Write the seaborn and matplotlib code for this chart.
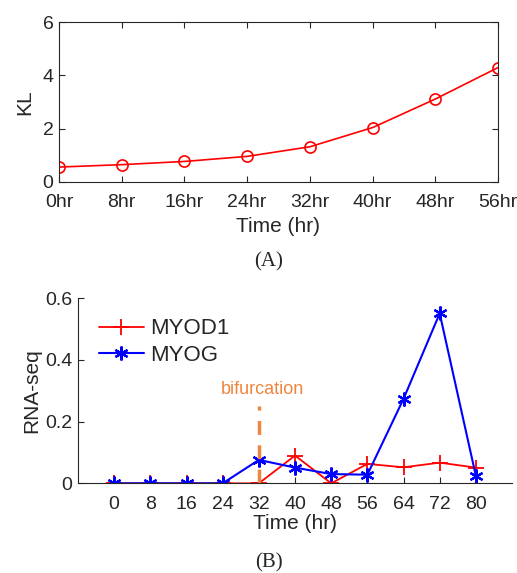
import matplotlib
matplotlib.use('Agg')
import matplotlib.pyplot as plt
import seaborn as sns
import numpy as np

# --- data ---
kl_time = [0, 8, 16, 24, 32, 40, 48, 56]
kl_labels = ['0hr', '8hr', '16hr', '24hr', '32hr', '40hr', '48hr', '56hr']
kl_values = [0.56, 0.65, 0.77, 0.96, 1.32, 2.04, 3.11, 4.29]

rna_time = [0, 8, 16, 24, 32, 40, 48, 56, 64, 72, 80]
myod1 = [0, 0, 0, 0, 0, 0.090, 0, 0.063, 0.052, 0.067, 0.051]
myog = [0, 0, 0, 0, 0.076, 0.051, 0.030, 0.028, 0.274, 0.551, 0.024]

bif_time = 32
bif_top = 0.25
bif_text = 'bifurcation'

sns.set_style('ticks')
plt.rcParams['font.family'] = ['Liberation Sans', 'DejaVu Sans']
plt.rcParams['xtick.direction'] = 'in'
plt.rcParams['ytick.direction'] = 'in'

fig = plt.figure(figsize=(5.17, 5.73), dpi=100)
text_col = '#262626'

# --- (A) KL ---
ax1 = fig.add_axes([0.1141, 0.6824, 0.8491, 0.2792])
sns.lineplot(x=kl_time, y=kl_values, ax=ax1, color='red', linewidth=1.2,
             marker='o', markersize=8, markerfacecolor='none',
             markeredgecolor='red', markeredgewidth=1.2)
ax1.set_xlim(0, 56)
ax1.set_ylim(0, 6)
ax1.set_xticks(kl_time)
ax1.set_xticklabels(kl_labels)
ax1.set_yticks([0, 2, 4, 6])
ax1.tick_params(labelsize=14, colors=text_col, top=True, right=True, length=4)
ax1.tick_params(axis='x', pad=9)
ax1.tick_params(axis='y', pad=4)
ax1.set_xlabel('Time (hr)', fontsize=15, color=text_col, labelpad=4)
ax1.set_ylabel('KL', fontsize=15, color=text_col, labelpad=6)
for s in ax1.spines.values():
    s.set_color(text_col)
    s.set_linewidth(0.8)
fig.text(0.52, 1 - 262 / 573, '(A)', ha='center', va='center',
         fontsize=15, family='Liberation Serif')

# --- (B) RNA-seq ---
ax2 = fig.add_axes([0.1509, 0.1565, 0.8395, 0.3229])
sns.lineplot(x=rna_time, y=myod1, ax=ax2, color='red', linewidth=1.3,
             marker='+', markersize=11, markeredgecolor='red',
             markeredgewidth=1.3, label='MYOD1')
sns.lineplot(x=rna_time, y=myog, ax=ax2, color='blue', linewidth=1.5,
             marker=(6, 2, 0), markersize=10, markeredgecolor='blue',
             markeredgewidth=1.6, label='MYOG')
ax2.vlines(bif_time, 0, bif_top, colors='#EF8640', linestyles=(0, (4, 3)),
           linewidth=2.5)
ax2.text(bif_time + 0.8, bif_top + 0.055, bif_text, color='#EF8640',
         fontsize=13, ha='center', va='center')
ax2.set_xlim(-8, 88)
ax2.set_ylim(0, 0.6)
ax2.set_xticks(rna_time)
ax2.set_yticks([0, 0.2, 0.4, 0.6])
ax2.set_yticklabels(['0', '0.2', '0.4', '0.6'])
ax2.tick_params(labelsize=14, colors=text_col, length=4)
ax2.tick_params(axis='x', pad=9)
ax2.tick_params(axis='y', pad=4)
ax2.set_xlabel('Time (hr)', fontsize=15, color=text_col, labelpad=1)
ax2.set_ylabel('RNA-seq', fontsize=15, color=text_col, labelpad=3)
sns.despine(ax=ax2)
for s in ax2.spines.values():
    s.set_color(text_col)
    s.set_linewidth(0.8)
ax2.legend(loc='upper left', frameon=False, fontsize=16, handlelength=2.0,
           handletextpad=0.3, labelspacing=0.25, borderaxespad=0.0,
           bbox_to_anchor=(0.028, 0.94))
fig.text(0.52, 1 - 563 / 573, '(B)', ha='center', va='center',
         fontsize=15, family='Liberation Serif')

fig.savefig('out.png', dpi=100)
